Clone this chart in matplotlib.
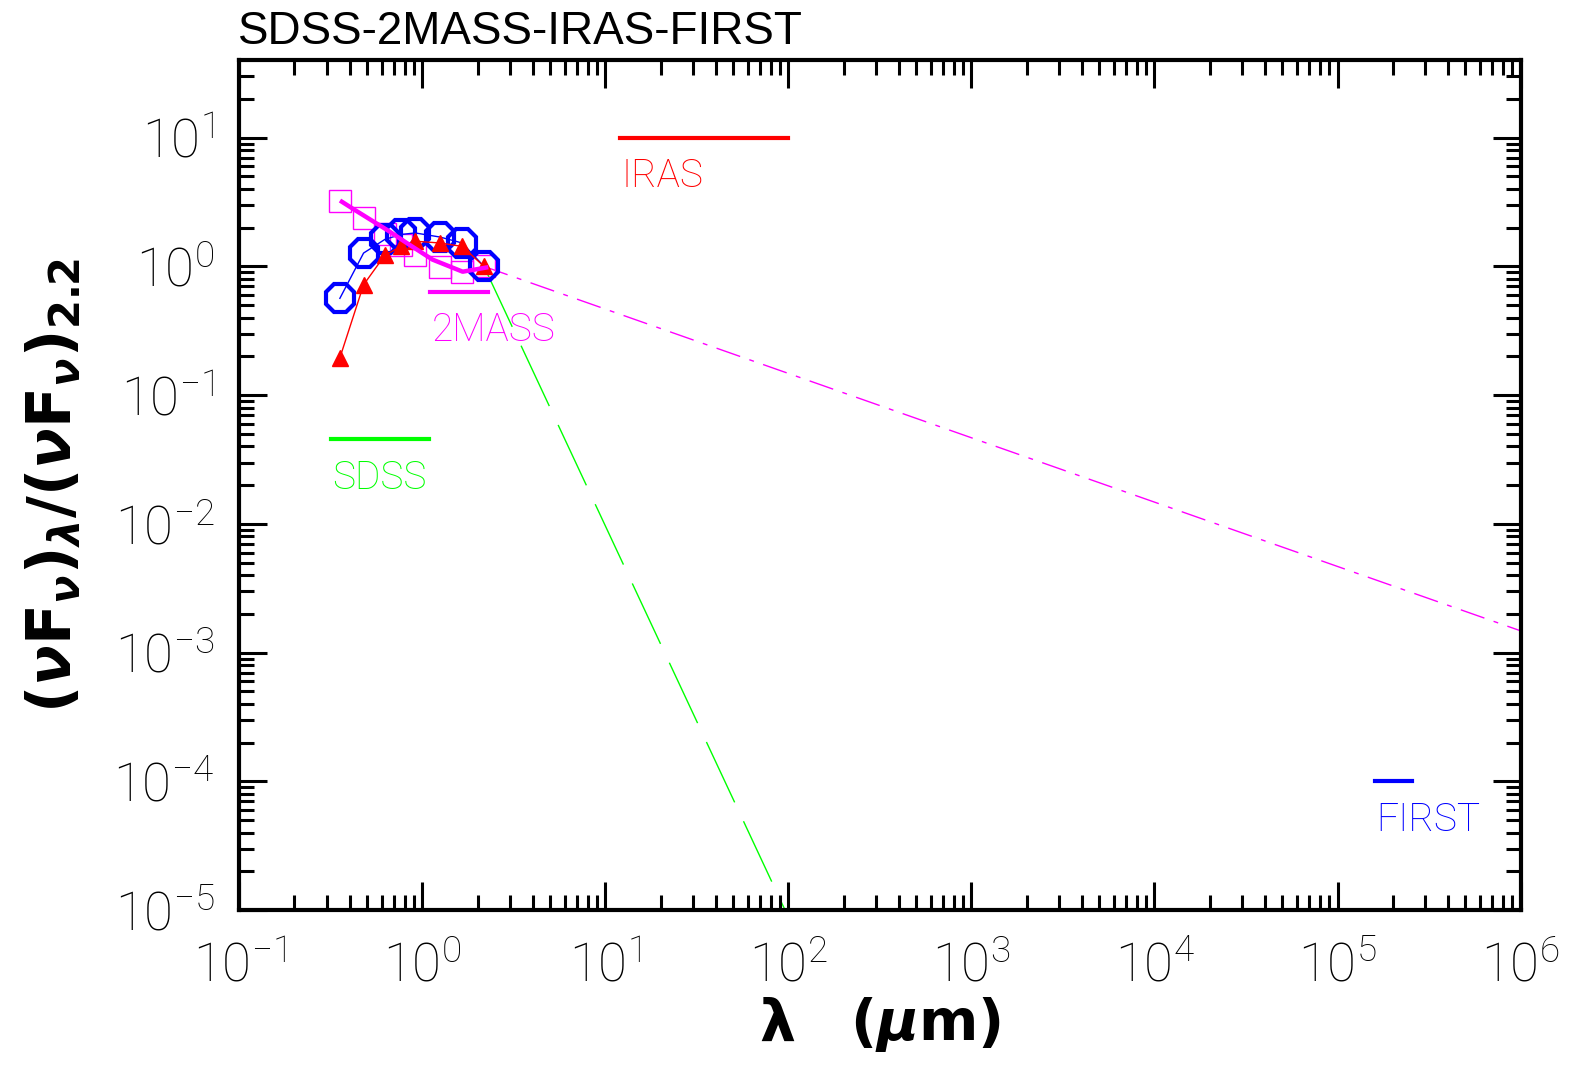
import math
import matplotlib
matplotlib.use('Agg')
import matplotlib.pyplot as plt
from matplotlib.ticker import LogLocator, FuncFormatter, NullFormatter

# SDSS ugriz + 2MASS JHK wavelengths (micron)
lam = [0.354, 0.477, 0.623, 0.763, 0.913, 1.25, 1.65, 2.17]
# SEDs normalised at 2.2 micron
sed_circ = [0.565, 1.27, 1.62, 1.77, 1.82, 1.69, 1.52, 1.0]
sed_tri = [0.195, 0.72, 1.22, 1.43, 1.57, 1.52, 1.43, 1.0]
sed_sq = [3.22, 2.38, 1.80, 1.48, 1.22, 0.99, 0.90, 1.0]

# smooth composite curve (thick magenta)
tmpl_lam = [0.363, 0.428, 0.656, 0.845, 1.135, 1.66, 2.23]
tmpl_val = [3.18, 2.74, 1.88, 1.48, 1.13, 0.91, 0.98]

# extrapolations from K band
star_lam = [2.17, 95.9]
star_val = [1.0, 1.0e-5]
pl_lam = [2.17, 1.0e6]
pl_val = [1.0, 1.48e-3]

# survey coverage bars
bands = ['SDSS', '2MASS', 'IRAS', 'FIRST']
band_lo = [0.316, 1.107, 12.0, 1.6e5]
band_hi = [1.09, 2.27, 100.0, 2.55e5]
band_y = [0.0453, 0.638, 10.0, 1.0e-4]
band_col = ['#00ff00', '#ff00ff', '#ff0000', '#0000ff']

plt.rcParams['font.family'] = ['Roboto', 'DejaVu Sans']
plt.rcParams['mathtext.fontset'] = 'dejavusans'

fig = plt.figure(figsize=(15.77, 10.69), dpi=100)
ax = fig.add_axes([0.1518, 0.1485, 0.8124, 0.795])
ax.set_xscale('log')
ax.set_yscale('log')

ax.plot(lam, sed_sq, ls='none', marker='s', ms=16, mfc='none', mec='#ff00ff', mew=1.0, zorder=2)
ax.plot(lam, sed_circ, color='#0000ff', lw=1.0, marker='8', ms=22, mfc='none', mec='#0000ff', mew=3.0, zorder=3)
ax.plot(lam, sed_tri, color='#ff0000', lw=1.0, marker='^', ms=12, mfc='#ff0000', mec='#ff0000', zorder=4)
ax.plot(tmpl_lam, tmpl_val, color='#ff00ff', lw=3.2, zorder=5)

ax.plot(star_lam, star_val, color='#00ff00', lw=1.0, dashes=(48, 15), zorder=1)
ax.plot(pl_lam, pl_val, color='#ff00ff', lw=1.0, dashes=(18, 7, 3.5, 7), zorder=1)

for name, lo, hi, y, c in zip(bands, band_lo, band_hi, band_y, band_col):
    ax.plot([lo, hi], [y, y], color=c, lw=3.0)
    ax.annotate(name, (lo, y), xytext=(1, -28), textcoords='offset points',
                ha='left', va='center', color=c, fontsize=28, fontweight='light')

ax.set_xlim(0.1, 1.0e6)
ax.set_ylim(1.0e-5, 10 ** 1.6)

ax.xaxis.set_major_locator(LogLocator(base=10, numticks=20))
ax.yaxis.set_major_locator(LogLocator(base=10, numticks=20))
ax.xaxis.set_minor_locator(LogLocator(base=10, subs=range(2, 10), numticks=20))
ax.yaxis.set_minor_locator(LogLocator(base=10, subs=range(2, 10), numticks=20))
fmt = FuncFormatter(lambda v, p: r'$\mathregular{10^{%d}}$' % round(math.log10(v)))
ax.xaxis.set_major_formatter(fmt)
ax.yaxis.set_major_formatter(fmt)
ax.xaxis.set_minor_formatter(NullFormatter())
ax.yaxis.set_minor_formatter(NullFormatter())

ax.tick_params(which='both', direction='in', top=True, right=True, width=2.2, color='black')
ax.tick_params(which='major', length=20)
ax.tick_params(which='minor', length=11)
ax.tick_params(axis='x', which='major', pad=22, labelsize=38)
ax.tick_params(axis='y', which='major', pad=18, labelsize=38)
for lab in ax.get_xticklabels() + ax.get_yticklabels():
    lab.set_fontweight('light')
for s in ax.spines.values():
    s.set_linewidth(3.0)

ax.set_xlabel(r'$\mathbf{\lambda}\ \ \ \mathbf{(}\mathbfit{\mu}\mathbf{m)}$', fontsize=41)
ax.xaxis.set_label_coords(0.5, -0.1)
ax.set_ylabel(r'$\mathbf{(}\mathbfit{\nu}\mathbf{F}_{\mathbfit{\nu}}\mathbf{)}_{\mathbfit{\lambda}}'
              r'\mathbf{/(}\mathbfit{\nu}\mathbf{F}_{\mathbfit{\nu}}\mathbf{)}_{\mathbf{2.2}}$', fontsize=43)
ax.yaxis.set_label_coords(-0.122, 0.5)

fig.text(238 / 1577, 1 - 32 / 1069, 'SDSS-2MASS-IRAS-FIRST', ha='left', va='center',
         fontsize=33, family=['Liberation Sans Narrow', 'Liberation Sans', 'DejaVu Sans'])

fig.savefig('out.png', dpi=100)
